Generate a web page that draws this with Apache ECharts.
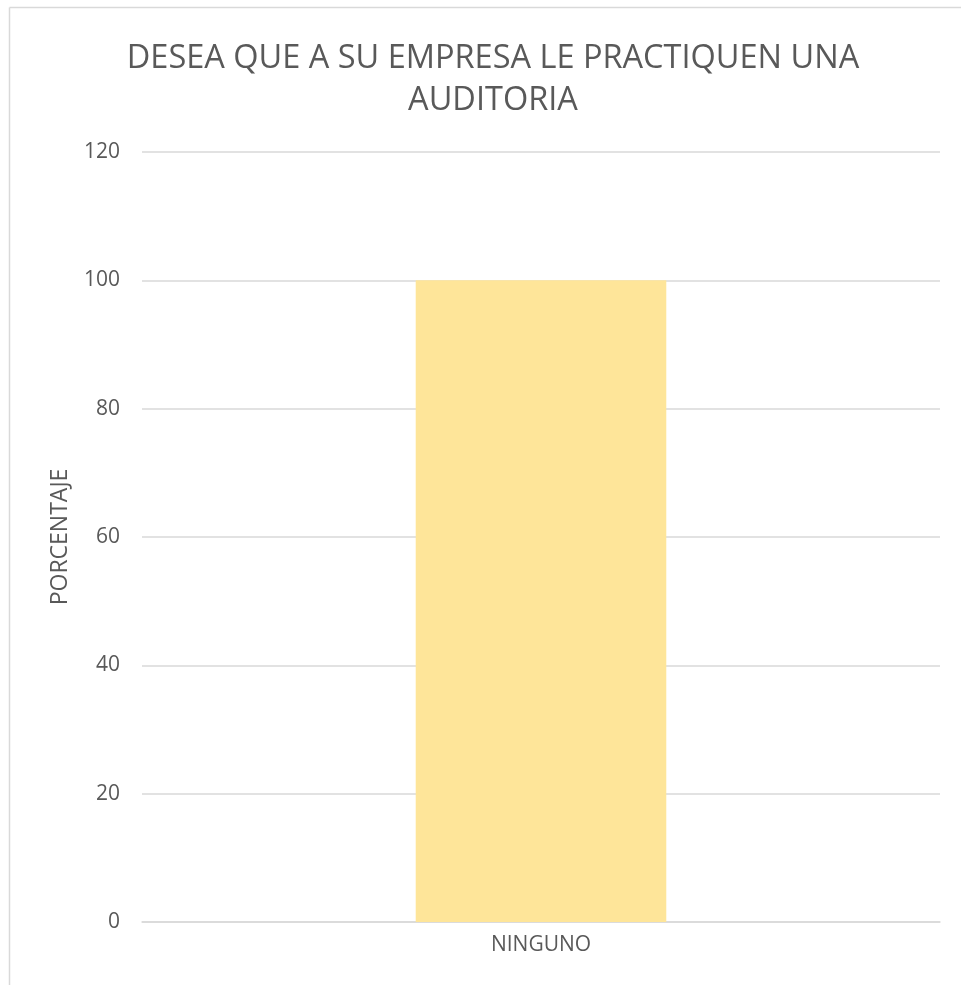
<!DOCTYPE html>
<html>
<head>
<meta charset="utf-8">
<script src="https://cdn.jsdelivr.net/npm/echarts@6/dist/echarts.min.js"></script>
<style>
  html, body { margin: 0; padding: 0; background: #fff; }
  #chart { width: 961px; height: 985px; }
</style>
</head>
<body>
<div id="chart"></div>
<script>
var categories = ['NINGUNO'];
var values = [100];
var yTicks = [0, 20, 40, 60, 80, 100, 120];

var myChart = echarts.init(document.getElementById('chart'));
var textColor = '#595959';
var gridColor = '#D9D9D9';

var option = {
  backgroundColor: '#fff',
  textStyle: { fontFamily: 'Open Sans' },
  title: {
    text: 'DESEA QUE A SU EMPRESA LE PRACTIQUEN UNA\nAUDITORIA',
    left: 488,
    top: 33,
    textAlign: 'center',
    textStyle: {
      color: textColor,
      fontSize: 32.5,
      fontWeight: 'normal',
      lineHeight: 42,
      fontFamily: 'Open Sans'
    }
  },
  grid: {
    left: 142,
    right: 21,
    top: 152,
    bottom: 63
  },
  graphic: [
    { type: 'line', shape: { x1: 9.5, y1: 7.5, x2: 961, y2: 7.5 }, style: { stroke: gridColor, lineWidth: 1.5 } },
    { type: 'line', shape: { x1: 9.5, y1: 7.5, x2: 9.5, y2: 985 }, style: { stroke: gridColor, lineWidth: 1.5 } }
  ],
  xAxis: {
    type: 'category',
    data: categories,
    axisLine: { lineStyle: { color: gridColor, width: 1.5 } },
    axisTick: { show: false },
    axisLabel: { color: textColor, fontSize: 21, margin: 13 }
  },
  yAxis: {
    type: 'value',
    min: yTicks[0],
    max: yTicks[yTicks.length - 1],
    interval: 20,
    name: 'PORCENTAJE',
    nameLocation: 'middle',
    nameGap: 70,
    nameTextStyle: { color: textColor, fontSize: 23 },
    axisLine: { show: false },
    axisTick: { show: false },
    axisLabel: { color: textColor, fontSize: 21, margin: 22 },
    splitLine: { lineStyle: { color: gridColor, width: 1.5 } }
  },
  series: [
    {
      type: 'bar',
      data: values,
      barWidth: '31.4%',
      itemStyle: { color: '#FEE599' }
    }
  ]
};
myChart.setOption(option);
</script>
</body>
</html>
